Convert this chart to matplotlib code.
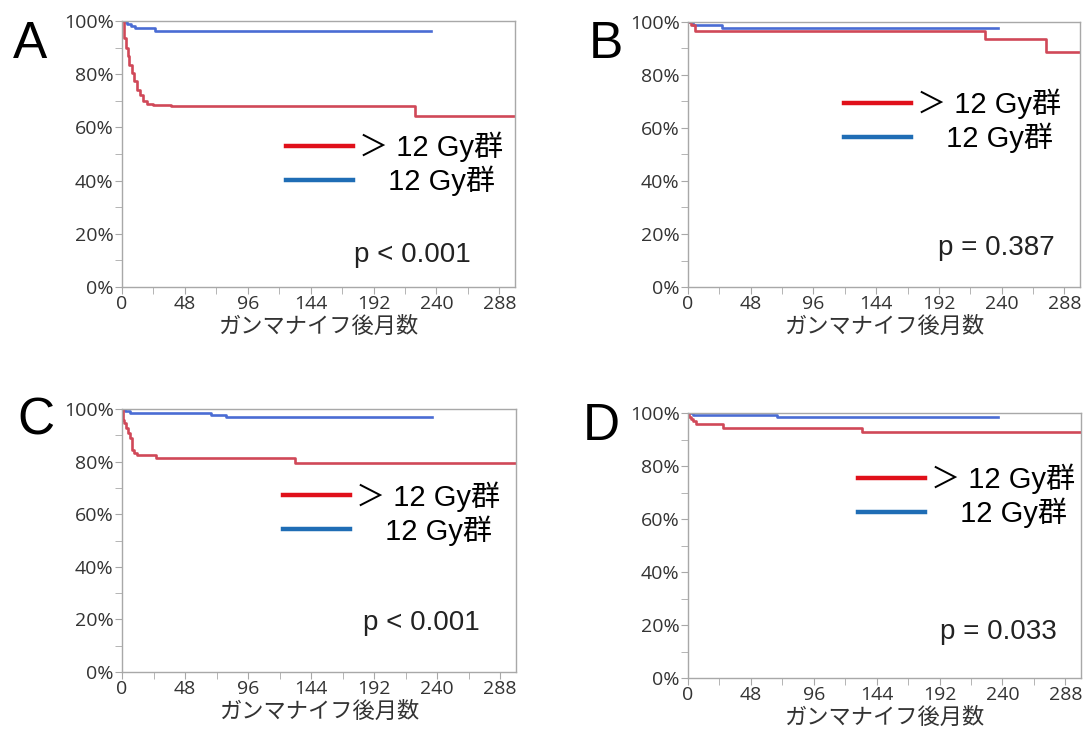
#Kaplan-Meier curves for four panels (>12 Gy vs 12 Gy)
import numpy as np
import matplotlib
matplotlib.use('Agg')
import matplotlib.pyplot as plt
from matplotlib.lines import Line2D
from matplotlib.ticker import MultipleLocator, FuncFormatter

plt.rcParams['font.family'] = ['Noto Sans CJK JP', 'DejaVu Sans']

# months, survival (%)
a_red_t = [0, 1.3, 1.8, 3, 4.3, 5.6, 7.4, 9.4, 11.5, 14, 15.8, 19, 23.4, 37.4, 224, 300]
a_red_s = [100, 95, 93.7, 90, 86.8, 83.6, 80.5, 77.4, 74, 72, 70, 68.8, 68.4, 67.9, 64.3, 64.3]
a_blue_t = [0, 2, 4, 7, 10, 25, 236]
a_blue_s = [100, 99.5, 98.8, 98.0, 97.5, 96.3, 96.3]

b_red_t = [0, 2, 5, 227, 274, 300]
b_red_s = [100, 98.9, 96.6, 93.5, 88.8, 88.8]
b_blue_t = [0, 4, 26, 237]
b_blue_s = [100, 98.9, 97.9, 97.9]

c_red_t = [0, 0.5, 1.8, 3, 4.8, 6.4, 7.4, 7.6, 8.9, 11.5, 26, 132, 300]
c_red_s = [100, 95.8, 94.5, 92.6, 90.7, 88.8, 87, 84.4, 83.1, 82.6, 81.3, 79.6, 79.6]
c_blue_t = [0, 2, 6, 68, 79, 236]
c_blue_s = [100, 99.4, 98.6, 97.9, 97.1, 97.1]

d_red_t = [0, 0.5, 2, 4, 6, 27, 133, 300]
d_red_s = [100, 98.5, 97.8, 96.8, 96.0, 94.4, 92.7, 92.7]
d_blue_t = [0, 3.6, 68, 237]
d_blue_s = [100, 99.2, 98.4, 98.4]

p_texts = ['p < 0.001', 'p = 0.387', 'p < 0.001', 'p = 0.033']
letters = ['A', 'B', 'C', 'D']
labels = ['＞ 12 Gy群', '　12 Gy群']
xlabel = 'ガンマナイフ後月数'

W, H = 1087, 733
# axes boxes in pixels: left, right, top, bottom
boxes = [(122, 515, 21, 287), (688, 1080, 22, 287),
         (122, 516, 409, 672), (688, 1081, 413, 678)]
p_pos = [(0.74, 0.12), (0.787, 0.147), (0.76, 0.186), (0.791, 0.174)]
leg_pos = [(0.417, 0.462), (0.398, 0.628), (0.409, 0.603), (0.433, 0.687)]
letter_pos = [(30, 45), (606, 45), (36, 421), (601, 427)]

panels = [(a_red_t, a_red_s, a_blue_t, a_blue_s),
          (b_red_t, b_red_s, b_blue_t, b_blue_s),
          (c_red_t, c_red_s, c_blue_t, c_blue_s),
          (d_red_t, d_red_s, d_blue_t, d_blue_s)]

RED = '#d04858'
BLUE = '#4a6cd4'
LRED = '#e0101a'
LBLUE = '#1f6db5'
GRAY = '#a8a8a8'

fig = plt.figure(figsize=(W / 100, H / 100), dpi=100)
fig.patch.set_facecolor('white')

for i, (rt, rs, bt, bs) in enumerate(panels):
        l, r, t, b = boxes[i]
        ax = fig.add_axes([l / W, 1 - b / H, (r - l) / W, (b - t) / H])
        ax.step(bt, bs, where='post', color=BLUE, lw=1.9)
        ax.step(rt, rs, where='post', color=RED, lw=1.9)
        ax.set_xlim(0, 300)
        ax.set_ylim(0, 100)

        ax.xaxis.set_major_locator(MultipleLocator(48))
        ax.xaxis.set_minor_locator(MultipleLocator(24))
        ax.yaxis.set_major_locator(MultipleLocator(20))
        ax.yaxis.set_minor_locator(MultipleLocator(10))
        ax.yaxis.set_major_formatter(FuncFormatter(lambda v, pos: '%d%%' % v))
        ax.tick_params(which='both', direction='out', color=GRAY, labelcolor='#333333',
                       labelsize=14, pad=1, labelfontfamily='Open Sans')
        ax.tick_params(which='major', length=5)
        ax.tick_params(which='minor', length=5)
        for sp in ax.spines.values():
                sp.set_color(GRAY)
                sp.set_linewidth(1.0)
        ax.set_xlabel(xlabel, fontsize=16, color='#333333', labelpad=1)

        handles = [Line2D([], [], color=LRED, lw=3.2), Line2D([], [], color=LBLUE, lw=3.2)]
        ax.legend(handles, labels, loc='center left', bbox_to_anchor=leg_pos[i],
                  frameon=False, borderpad=0, borderaxespad=0, handlelength=2.3,
                  handletextpad=0.2, labelspacing=0.12,
                  prop={'family': ['Liberation Sans', 'Noto Sans CJK JP'], 'size': 21})
        ax.text(p_pos[i][0], p_pos[i][1], p_texts[i], transform=ax.transAxes,
                ha='center', va='center', fontsize=20, color='#222222',
                family=['Liberation Sans', 'DejaVu Sans'])

        fig.text(letter_pos[i][0] / W, 1 - letter_pos[i][1] / H, letters[i],
                 ha='center', va='center', fontsize=37, color='black',
                 family=['Liberation Sans', 'DejaVu Sans'])

fig.savefig('out.png', dpi=100)
